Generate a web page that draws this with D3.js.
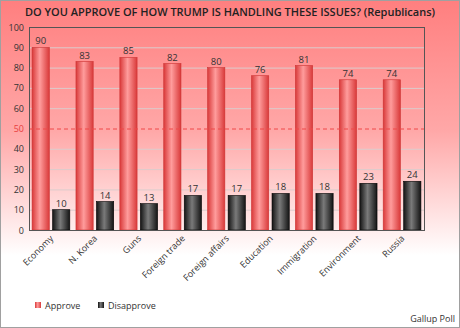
<!DOCTYPE html>
<html>
<head>
<meta charset="utf-8">
<script src="https://cdn.jsdelivr.net/npm/d3@7"></script>
<style>
  body { margin: 0; }
  svg { display: block; font-family: "Open Sans", "Noto Sans", sans-serif; }
</style>
</head>
<body>
<div id="chart"></div>
<script>
var categories = ['Economy', 'N. Korea', 'Guns', 'Foreign trade', 'Foreign affairs', 'Education', 'Immigration', 'Environment', 'Russia'];
var approve = [90, 83, 85, 82, 80, 76, 81, 74, 74];
var disapprove = [10, 14, 13, 17, 17, 18, 18, 23, 24];
var seriesNames = ['Approve', 'Disapprove'];
var yTicks = [0, 10, 20, 30, 40, 50, 60, 70, 80, 90, 100];

var w = 460, h = 328;
var padL = 29, padR = 424, padT = 27, padB = 230;
var fs = 9;

var svg = d3.select('#chart').append('svg').attr('width', w).attr('height', h);
var defs = svg.append('defs');

var bg = defs.append('linearGradient').attr('id', 'bg').attr('x1', 0).attr('y1', 0).attr('x2', 0).attr('y2', 1);
bg.append('stop').attr('offset', '0%').attr('stop-color', '#ff7f7f');
bg.append('stop').attr('offset', '40%').attr('stop-color', '#ffa8a8');
bg.append('stop').attr('offset', '78%').attr('stop-color', '#ffffff');
bg.append('stop').attr('offset', '100%').attr('stop-color', '#ffffff');

function cyl(id, edge, mid) {
  var g = defs.append('linearGradient').attr('id', id).attr('x1', 0).attr('y1', 0).attr('x2', 1).attr('y2', 0);
  g.append('stop').attr('offset', '0%').attr('stop-color', edge);
  g.append('stop').attr('offset', '45%').attr('stop-color', mid);
  g.append('stop').attr('offset', '100%').attr('stop-color', edge);
}
cyl('gRed', '#d93a3a', '#ff9c9c');
cyl('gBlack', '#141414', '#7a7a7a');

svg.append('rect').attr('x', 0.5).attr('y', 0.5).attr('width', w - 1).attr('height', h - 1)
  .attr('fill', 'url(#bg)').attr('stroke', '#a0a0a0');

svg.append('text').attr('x', w / 2).attr('y', 16).attr('text-anchor', 'middle')
  .attr('font-size', 11).attr('font-weight', 600).attr('fill', '#222')
  .attr('textLength', 410).attr('lengthAdjust', 'spacingAndGlyphs')
  .text('DO YOU APPROVE OF HOW TRUMP IS HANDLING THESE ISSUES? (Republicans)');

var x0 = d3.scaleBand().domain(categories).range([padL, padR]).paddingInner(0.14).paddingOuter(0.07);
var x1 = d3.scaleBand().domain(seriesNames).range([0, x0.bandwidth()]).paddingInner(0.16);
var y = d3.scaleLinear().domain([0, 100]).range([padB, padT]);

// gridlines
svg.append('g').selectAll('line').data(yTicks.filter(function (d) { return d > 0 && d < 100 && d !== 50; }))
  .enter().append('line')
  .attr('x1', padL).attr('x2', padR)
  .attr('y1', function (d) { return y(d) + 0.5; }).attr('y2', function (d) { return y(d) + 0.5; })
  .attr('stroke', '#dccccc').attr('stroke-width', 1);

// y axis labels
svg.append('g').selectAll('text').data(yTicks).enter().append('text')
  .attr('x', padL - 5).attr('y', function (d) { return y(d) + 3.5; })
  .attr('text-anchor', 'end').attr('font-size', fs)
  .attr('fill', function (d) { return d === 50 ? '#e84040' : '#333'; })
  .text(function (d) { return d; });

var rows = categories.map(function (c, i) { return { cat: c, vals: [approve[i], disapprove[i]] }; });

var groups = svg.append('g').selectAll('g').data(rows).enter().append('g')
  .attr('transform', function (d) { return 'translate(' + x0(d.cat) + ',0)'; });

groups.selectAll('rect').data(function (d) { return d.vals.map(function (v, j) { return { s: seriesNames[j], v: v }; }); })
  .enter().append('rect')
  .attr('x', function (d) { return x1(d.s); })
  .attr('y', function (d) { return y(d.v); })
  .attr('width', x1.bandwidth())
  .attr('height', function (d) { return y(0) - y(d.v); })
  .attr('fill', function (d) { return d.s === 'Approve' ? 'url(#gRed)' : 'url(#gBlack)'; })
  .attr('stroke', function (d) { return d.s === 'Approve' ? '#c33' : '#000'; })
  .attr('stroke-width', 0.6);

groups.selectAll('text').data(function (d) { return d.vals.map(function (v, j) { return { s: seriesNames[j], v: v }; }); })
  .enter().append('text')
  .attr('x', function (d) { return x1(d.s) + x1.bandwidth() / 2; })
  .attr('y', function (d) { return y(d.v) - 3; })
  .attr('text-anchor', 'middle').attr('font-size', fs + 0.5).attr('fill', '#333')
  .text(function (d) { return d.v; });

// 50 dashed line
svg.append('line').attr('x1', padL).attr('x2', padR).attr('y1', y(50) + 0.5).attr('y2', y(50) + 0.5)
  .attr('stroke', '#f04848').attr('stroke-width', 1).attr('stroke-dasharray', '4,3');

// plot frame
svg.append('rect').attr('x', padL + 0.5).attr('y', padT + 0.5).attr('width', padR - padL).attr('height', padB - padT)
  .attr('fill', 'none').attr('stroke', '#555').attr('stroke-width', 1);

// category labels
svg.append('g').selectAll('text').data(categories).enter().append('text')
  .attr('transform', function (d) { return 'translate(' + (x0(d) + x0.bandwidth() / 2 + 3) + ',' + (padB + 9) + ') rotate(-45)'; })
  .attr('text-anchor', 'end').attr('font-size', fs).attr('fill', '#333')
  .text(function (d) { return d; });

// legend
var legX = [35, 98];
var leg = svg.append('g').selectAll('g').data(seriesNames).enter().append('g')
  .attr('transform', function (d, i) { return 'translate(' + legX[i] + ',302)'; });
leg.append('rect').attr('width', 6).attr('height', 6)
  .attr('fill', function (d) { return d === 'Approve' ? 'url(#gRed)' : 'url(#gBlack)'; });
leg.append('text').attr('x', 10).attr('y', 6.5).attr('font-size', fs).attr('fill', '#333')
  .text(function (d) { return d; });

svg.append('text').attr('x', 455).attr('y', 322).attr('text-anchor', 'end')
  .attr('font-size', fs).attr('fill', '#333').text('Gallup Poll');
</script>
</body>
</html>
